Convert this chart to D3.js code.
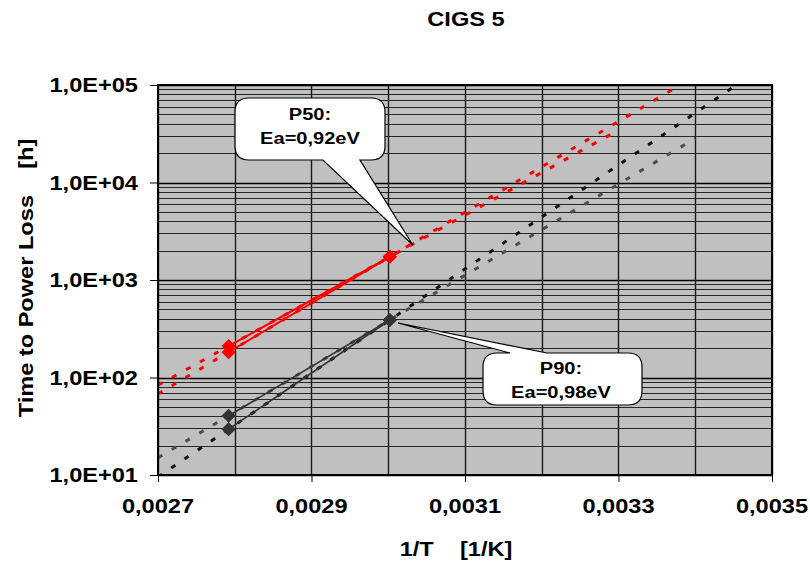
<!DOCTYPE html>
<meta charset="utf-8">
<title>CIGS 5</title>
<script src="https://d3js.org/d3.v7.min.js"></script>
<style>
  body { margin: 0; background: #fff; }
  text { font-family: Arial, "Liberation Sans", sans-serif; font-weight: bold; fill: #000; }
</style>
<body>
<script>

// 1/T of the two test temperatures (85 C and 60 C)
var invT = [0.002792, 0.003002];

// time to power loss [h], two fits each for P50 and P90
var p50a = [210, 1730];
var p50b = [182, 1730];
var p90a = [40.5, 389];
var p90b = [29.5, 389];

// how far (in 1/T) each trendline is forecast
var trendStart = [0.0027, 0.0027, 0.0027, 0.0027];
var trendEnd = [0.0033, 0.0035, 0.0034, 0.0035];

var xTicks = [0.0027, 0.0029, 0.0031, 0.0033, 0.0035];
var yTicks = [10, 100, 1000, 10000, 100000];

var w = 810, h = 565;
var plotL = 158, plotR = 772, plotT = 85, plotB = 475;

var svg = d3.select("body").append("svg")
  .attr("width", w)
  .attr("height", h);

var x = d3.scaleLinear().domain([0.0027, 0.0035]).range([plotL, plotR]);
var y = d3.scaleLog().domain([10, 100000]).range([plotB, plotT]);

// wide-ish text like the original
function label(g, px, py, str, size, anchor, rot) {
  return g.append("text")
    .attr("transform", "translate(" + px + "," + py + ")" + (rot ? " rotate(" + rot + ")" : "") + " scale(1.18,1)")
    .attr("text-anchor", anchor || "middle")
    .style("font-size", size + "px")
    .style("white-space", "pre")
    .text(str);
}

// plot background
svg.append("rect")
  .attr("x", plotL).attr("y", plotT)
  .attr("width", plotR - plotL).attr("height", plotB - plotT)
  .attr("fill", "#c0c0c0");

// horizontal grid (log, with minor lines)
var hGrid = [];
[10, 100, 1000, 10000].forEach(function(dec) {
  for (var m = 1; m < 10; m++) hGrid.push(dec * m);
});
hGrid.push(100000);

svg.append("g").selectAll("line")
  .data(hGrid)
  .enter().append("line")
    .attr("x1", plotL).attr("x2", plotR)
    .attr("y1", function(d) { return Math.round(y(d)) + 0.5; })
    .attr("y2", function(d) { return Math.round(y(d)) + 0.5; })
    .attr("stroke", function(d) { return yTicks.indexOf(d) >= 0 ? "#000" : "#262626"; })
    .attr("stroke-width", function(d) { return yTicks.indexOf(d) >= 0 ? 1.4 : 1.2; });

// vertical grid every 0.0001
var vGrid = d3.range(27, 36).map(function(d) { return d / 10000; });
svg.append("g").selectAll("line")
  .data(vGrid)
  .enter().append("line")
    .attr("x1", function(d) { return Math.round(x(d)) + 0.5; })
    .attr("x2", function(d) { return Math.round(x(d)) + 0.5; })
    .attr("y1", plotT).attr("y2", plotB)
    .attr("stroke", "#1a1a1a")
    .attr("stroke-width", 1.4);

// clip for trendlines
svg.append("clipPath").attr("id", "plotclip")
  .append("rect")
  .attr("x", plotL).attr("y", plotT)
  .attr("width", plotR - plotL).attr("height", plotB - plotT);

var series = [
  { vals: p50a, color: "#ff0000", line: "#ff0000", trend: "#ff0000", w: 2 },
  { vals: p50b, color: "#ff0000", line: "#ff0000", trend: "#ff0000", w: 2 },
  { vals: p90a, color: "#333333", line: "#333333", trend: "#4d4d4d", w: 1.6 },
  { vals: p90b, color: "#333333", line: "#333333", trend: "#111111", w: 1.6 }
];

// exponential trendline through the two points (straight on log axis)
series.forEach(function(s, i) {
  var b = (Math.log10(s.vals[1]) - Math.log10(s.vals[0])) / (invT[1] - invT[0]);
  var a = Math.log10(s.vals[0]) - b * invT[0];
  s.trendPts = [trendStart[i], trendEnd[i]].map(function(t) {
    return [t, Math.pow(10, a + b * t)];
  });
});

var line = d3.line()
  .x(function(d) { return x(d[0]); })
  .y(function(d) { return y(d[1]); });

svg.append("g")
  .attr("clip-path", "url(#plotclip)")
  .selectAll("path")
  .data(series)
  .enter().append("path")
    .attr("d", function(s) { return line(s.trendPts); })
    .attr("fill", "none")
    .attr("stroke", function(s) { return s.trend; })
    .attr("stroke-width", 3)
    .attr("stroke-dasharray", "5,11");

// measured lines
svg.append("g").selectAll("path")
  .data(series)
  .enter().append("path")
    .attr("d", function(s) { return line(s.vals.map(function(v, j) { return [invT[j], v]; })); })
    .attr("fill", "none")
    .attr("stroke", function(s) { return s.line; })
    .attr("stroke-width", function(s) { return s.w; });

// diamonds
var diamond = d3.symbol().type(d3.symbolSquare).size(100);
series.forEach(function(s) {
  svg.append("g").selectAll("path")
    .data(s.vals)
    .enter().append("path")
      .attr("d", diamond)
      .attr("transform", function(v, j) { return "translate(" + x(invT[j]) + "," + y(v) + ") rotate(45)"; })
      .attr("fill", s.color);
});

// plot border
svg.append("rect")
  .attr("x", plotL).attr("y", plotT)
  .attr("width", plotR - plotL).attr("height", plotB - plotT)
  .attr("fill", "none")
  .attr("stroke", "#000")
  .attr("stroke-width", 2);

// axes
var fmtY = function(d) { return "1,0E+" + d3.format("02d")(Math.round(Math.log10(d))); };
var yAxis = svg.append("g")
  .attr("transform", "translate(" + plotL + ",0)")
  .call(d3.axisLeft(y).tickValues(yTicks).tickSize(8).tickFormat(fmtY));
yAxis.select(".domain").remove();
yAxis.selectAll("line").attr("stroke", "#000");
yAxis.selectAll("text").remove();
yTicks.forEach(function(d) {
  label(svg, plotL - 20, y(d) + 7, fmtY(d), 20, "end");
});

var xAxis = svg.append("g")
  .attr("transform", "translate(0," + plotB + ")")
  .call(d3.axisBottom(x).tickValues(xTicks).tickSize(7));
xAxis.select(".domain").remove();
xAxis.selectAll("line").attr("stroke", "#000");
xAxis.selectAll("text").remove();
xTicks.forEach(function(d) {
  label(svg, x(d), 513, d.toFixed(4).replace(".", ","), 20, "middle");
});

// titles
label(svg, 466, 26, "CIGS 5", 20, "middle");
label(svg, 456, 556, "1/T    [1/K]", 20, "middle");
label(svg, 33, 278, "Time to Power Loss    [h]", 20, "middle", -90);

// callouts
function callout(x0, y0, x1, y1, b1, b2, tx, ty, side) {
  var r = 14, p;
  if (side === "bottom") {
    p = "M" + (x0 + r) + "," + y0 + " H" + (x1 - r) + " Q" + x1 + "," + y0 + " " + x1 + "," + (y0 + r) +
      " V" + (y1 - r) + " Q" + x1 + "," + y1 + " " + (x1 - r) + "," + y1 +
      " H" + b2 + " L" + tx + "," + ty + " L" + b1 + "," + y1 +
      " H" + (x0 + r) + " Q" + x0 + "," + y1 + " " + x0 + "," + (y1 - r) +
      " V" + (y0 + r) + " Q" + x0 + "," + y0 + " " + (x0 + r) + "," + y0 + "Z";
  } else {
    p = "M" + (x0 + r) + "," + y0 + " H" + b1 + " L" + tx + "," + ty + " L" + b2 + "," + y0 +
      " H" + (x1 - r) + " Q" + x1 + "," + y0 + " " + x1 + "," + (y0 + r) +
      " V" + (y1 - r) + " Q" + x1 + "," + y1 + " " + (x1 - r) + "," + y1 +
      " H" + (x0 + r) + " Q" + x0 + "," + y1 + " " + x0 + "," + (y1 - r) +
      " V" + (y0 + r) + " Q" + x0 + "," + y0 + " " + (x0 + r) + "," + y0 + "Z";
  }
  svg.append("path").attr("d", p)
    .attr("fill", "#fff").attr("stroke", "#000").attr("stroke-width", 1.2);
}

// P50 points at the red trend just past the 60 C point
var t50 = [x(0.003032), y(2285)];
callout(235, 98, 385, 160, 323, 360, t50[0], t50[1], "bottom");
label(svg, 310, 120, "P50:", 17, "middle");
label(svg, 310, 144, "Ea=0,92eV", 17, "middle");

var t90 = [x(0.0030127), y(362)];
callout(483, 353, 642, 405, 510, 547, t90[0], t90[1], "top");
label(svg, 561, 374, "P90:", 17, "middle");
label(svg, 561, 398, "Ea=0,98eV", 17, "middle");

</script>
</body>
